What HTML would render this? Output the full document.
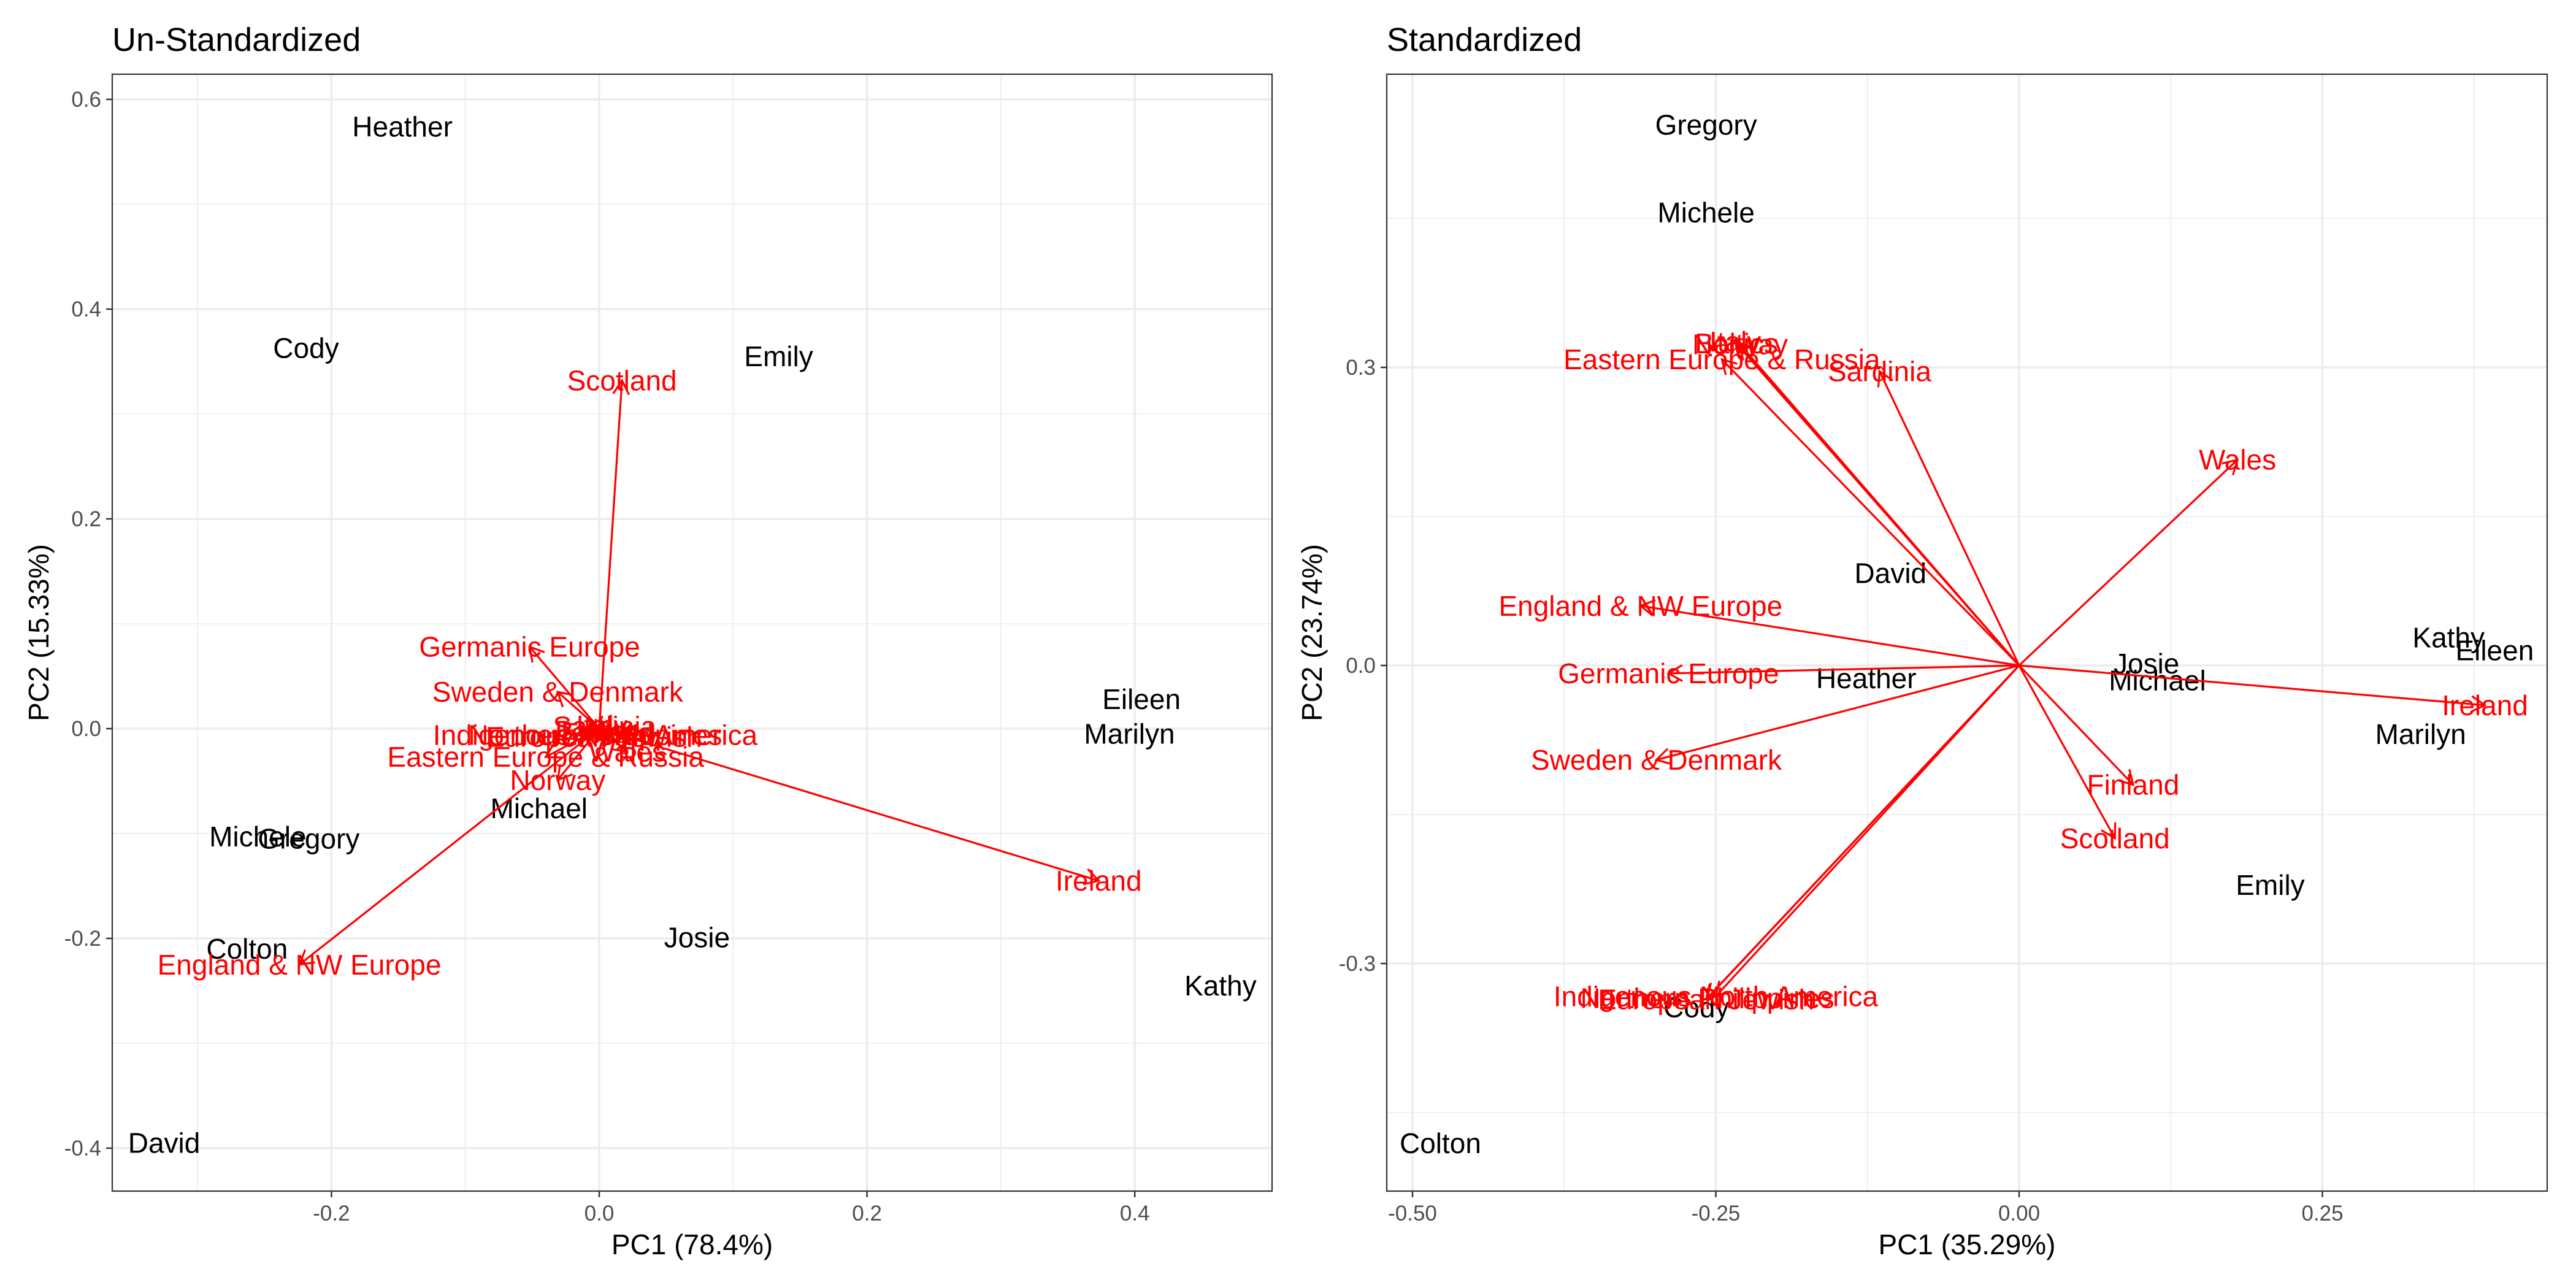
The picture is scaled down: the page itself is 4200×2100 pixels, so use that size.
<!DOCTYPE html>
<html><head><meta charset="utf-8"><style>
html,body{margin:0;padding:0;background:#fff}
svg{display:block;font-family:"Liberation Sans",Arial,sans-serif}
</style></head><body>
<svg id="c" width="4200" height="2100" viewBox="0 0 4200 2100" xmlns="http://www.w3.org/2000/svg"></svg>
<script>
// ---------- Left panel (Un-Standardized) data ----------
const leftNames = ["Heather","Cody","Emily","Eileen","Marilyn","Michael","Michele","Gregory","Colton","Josie","Kathy","David"];
const leftPX = [-0.147,-0.219,0.134,0.405,0.396,-0.045,-0.255,-0.217,-0.263,0.073,0.464,-0.325];
const leftPY = [0.574,0.363,0.355,0.028,-0.005,-0.076,-0.103,-0.105,-0.210,-0.199,-0.245,-0.395];
const leftVars = ["Scotland","Ireland","England & NW Europe","Germanic Europe","Sweden & Denmark","Eastern Europe & Russia","Norway","Indigenous North America","Northern Philippines","European Jewish","Finland","Wales","Sardinia","Baltics","Italy"];
const leftVX = [0.017,0.373,-0.224,-0.052,-0.031,-0.040,-0.031,-0.003,-0.003,-0.004,0.006,0.021,0.004,-0.002,0.002];
const leftVY = [0.332,-0.145,-0.225,0.078,0.035,-0.027,-0.049,-0.006,-0.006,-0.008,-0.004,-0.022,0.002,-0.002,0.003];
const leftXTicks = [-0.2,0.0,0.2,0.4];
const leftXTickLabels = ["-0.2","0.0","0.2","0.4"];
const leftYTicks = [-0.4,-0.2,0.0,0.2,0.4,0.6];
const leftYTickLabels = ["-0.4","-0.2","0.0","0.2","0.4","0.6"];
const leftXMinor = [-0.3,-0.1,0.1,0.3,0.5];
const leftYMinor = [-0.3,-0.1,0.1,0.3,0.5];

// ---------- Right panel (Standardized) data ----------
const rightNames = ["Gregory","Michele","David","Heather","Josie","Michael","Kathy","Eileen","Marilyn","Emily","Cody","Colton"];
const rightPX = [-0.258,-0.258,-0.106,-0.126,0.105,0.114,0.354,0.392,0.331,0.207,-0.266,-0.477];
const rightPY = [0.544,0.456,0.093,-0.013,0.002,-0.015,0.028,0.015,-0.069,-0.221,-0.344,-0.481];
const rightVars = ["Eastern Europe & Russia","Baltics","Italy","Norway","Sardinia","Wales","England & NW Europe","Germanic Europe","Sweden & Denmark","Finland","Scotland","Ireland","Indigenous North America","Northern Philippines","European Jewish"];
const rightVX = [-0.245,-0.233,-0.234,-0.230,-0.115,0.180,-0.312,-0.289,-0.299,0.094,0.079,0.384,-0.250,-0.257,-0.258];
const rightVY = [0.308,0.324,0.326,0.323,0.296,0.207,0.060,-0.008,-0.095,-0.120,-0.174,-0.040,-0.333,-0.335,-0.336];
const rightXTicks = [-0.5,-0.25,0.0,0.25];
const rightXTickLabels = ["-0.50","-0.25","0.00","0.25"];
const rightYTicks = [-0.3,0.0,0.3];
const rightYTickLabels = ["-0.3","0.0","0.3"];
const rightXMinor = [-0.375,-0.125,0.125,0.375];
const rightYMinor = [-0.45,-0.15,0.15,0.45];

const NS = "http://www.w3.org/2000/svg";
const svg = document.getElementById("c");
function mk(tag, attrs, parent){
  const e = document.createElementNS(NS, tag);
  for (const k in attrs) e.setAttribute(k, attrs[k]);
  (parent||svg).appendChild(e);
  return e;
}

function panel(cfg){
  const g = mk("g", {});
  
  
  const L=cfg.left,R=cfg.right,T=121,B=1942;
  const sx = v => cfg.x0px + v*cfg.xs;
  const sy = v => cfg.y0px - v*cfg.ys;
  mk("rect",{x:L,y:T,width:R-L,height:B-T,fill:"#fff"},g);
  cfg.xMinor.forEach(v=>{ const x=sx(v); if(x>L&&x<R){ mk("line",{x1:x,x2:x,y1:T,y2:B,stroke:"#EBEBEB","stroke-width":1.6},g);} });
  cfg.yMinor.forEach(v=>{ const y=sy(v); if(y>T&&y<B){ mk("line",{x1:L,x2:R,y1:y,y2:y,stroke:"#EBEBEB","stroke-width":1.6},g);} });
  cfg.xTicks.forEach((v,i)=>{
    const x=sx(v);
    const gl=mk("line",{x1:x,x2:x,y1:T,y2:B,stroke:"#EBEBEB","stroke-width":3.2},g);
    
    
    mk("line",{x1:x,x2:x,y1:B,y2:B+10,stroke:"#333","stroke-width":2.5},g);
    const t=mk("text",{x:x,y:B+48,"text-anchor":"middle","font-size":35,fill:"#4D4D4D"},g);
    t.textContent=cfg.xTickLabels[i];
    
    
  });
  cfg.yTicks.forEach((v,i)=>{
    const y=sy(v);
    const gl=mk("line",{x1:L,x2:R,y1:y,y2:y,stroke:"#EBEBEB","stroke-width":3.2},g);
    
    
    mk("line",{x1:L-10,x2:L,y1:y,y2:y,stroke:"#333","stroke-width":2.5},g);
    const t=mk("text",{x:L-18,y:y+12,"text-anchor":"end","font-size":35,fill:"#4D4D4D"},g);
    t.textContent=cfg.yTickLabels[i];
    
    
  });
  cfg.names.forEach((n,i)=>{
    const t=mk("text",{x:sx(cfg.px[i]),y:sy(cfg.py[i])+16,"text-anchor":"middle","font-size":46,fill:"#000"},g);
    t.textContent=n;
    
    
  });
  const ox=sx(0), oy=sy(0);
  cfg.vars.forEach((n,i)=>{
    const tx=sx(cfg.vx[i]), ty=sy(cfg.vy[i]);
    const a=mk("g",{},g);
    
    
    mk("line",{x1:ox,y1:oy,x2:tx,y2:ty,stroke:"#FF0000","stroke-width":3.2},a);
    const ang=Math.atan2(ty-oy,tx-ox), hl=26, ha=Math.PI/6;
    if (Math.hypot(tx-ox,ty-oy)>5){
      mk("polyline",{points:`${tx-hl*Math.cos(ang-ha)},${ty-hl*Math.sin(ang-ha)} ${tx},${ty} ${tx-hl*Math.cos(ang+ha)},${ty-hl*Math.sin(ang+ha)}`,fill:"none",stroke:"#FF0000","stroke-width":3.2},a);
    }
  });
  cfg.vars.forEach((n,i)=>{
    const t=mk("text",{x:sx(cfg.vx[i]),y:sy(cfg.vy[i])+16,"text-anchor":"middle","font-size":46,fill:"#FF0000"},g);
    t.textContent=n;
    
    
  });
  mk("rect",{x:L,y:T,width:R-L,height:B-T,fill:"none",stroke:"#333","stroke-width":2.2},g);
  const xt=mk("text",{x:(L+R)/2,y:2045,"text-anchor":"middle","font-size":46,fill:"#000"},g);
  xt.textContent=cfg.xTitle;
  
  
  const yx=cfg.yTitleX, yy=(T+B)/2;
  const yt=mk("text",{x:yx,y:yy,"text-anchor":"middle","font-size":46,fill:"#000",transform:`rotate(-90 ${yx} ${yy})`},g);
  yt.textContent=cfg.yTitle;
  
  
  const tt=mk("text",{x:L,y:83,"font-size":54,fill:"#000"},g);
  tt.textContent=cfg.title;
  
  
}

panel({key:"un-standardized",left:183,right:2074,x0px:977,xs:2183,y0px:1188,ys:1710,
  xTicks:leftXTicks,xTickLabels:leftXTickLabels,yTicks:leftYTicks,yTickLabels:leftYTickLabels,
  xMinor:leftXMinor,yMinor:leftYMinor,names:leftNames,px:leftPX,py:leftPY,
  vars:leftVars,vx:leftVX,vy:leftVY,xTitle:"PC1 (78.4%)",yTitle:"PC2 (15.33%)",yTitleX:79,title:"Un-Standardized"});
panel({key:"standardized",left:2261,right:4153,x0px:3292,xs:1978,y0px:1085,ys:1620,
  xTicks:rightXTicks,xTickLabels:rightXTickLabels,yTicks:rightYTicks,yTickLabels:rightYTickLabels,
  xMinor:rightXMinor,yMinor:rightYMinor,names:rightNames,px:rightPX,py:rightPY,
  vars:rightVars,vx:rightVX,vy:rightVY,xTitle:"PC1 (35.29%)",yTitle:"PC2 (23.74%)",yTitleX:2155,title:"Standardized"});
</script>
</body></html>
